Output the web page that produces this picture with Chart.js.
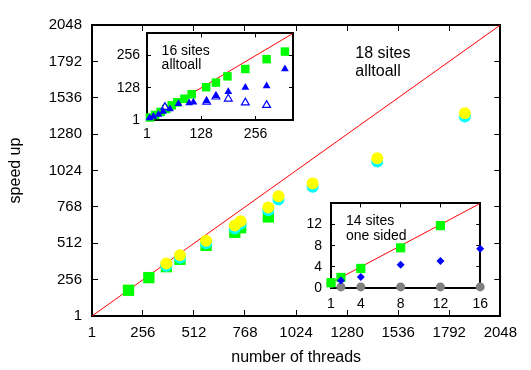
<!DOCTYPE html>
<html>
<head>
<meta charset="utf-8">
<script src="https://cdn.jsdelivr.net/npm/chart.js@4.4.1/dist/chart.umd.min.js"></script>
<style>
  body { margin: 0; background: #fff; }
  #wrap { position: relative; width: 531px; height: 370px; }
  canvas { position: absolute; }
</style>
</head>
<body>
<div id="wrap">
  <canvas id="mainChart" width="531" height="370" style="left:0;top:0"></canvas>
  <canvas id="alltoall16" width="200" height="135" style="left:100px;top:14px"></canvas>
  <canvas id="oneSided14" width="205" height="130" style="left:295px;top:182px"></canvas>
</div>
<script>
// 18 sites, alltoall (main plot)
const mainTicks = [1, 256, 512, 768, 1024, 1280, 1536, 1792, 2048];
const mainDiag = [1, 2048];
const sqThreads18 = [184, 286, 374, 442, 573, 717, 746, 885];
const sqSpeedup18 = [182, 271, 348, 400, 498, 590, 622, 698];
const dotThreads18 = [374, 442, 573, 717, 746, 885, 936, 1107, 1431, 1870];
const cyanSpeedup18 = [355, 410, 512, 617, 650, 745, 820, 910, 1088, 1405];
const yellowSpeedup18 = [371, 428, 530, 637, 667, 765, 844, 933, 1111, 1427];

// 16 sites, alltoall (upper inset)
const ticks16 = [1, 128, 256];
const diag16 = [1, 344];
const sqThreads16 = [8, 20, 33, 46, 59, 72, 89, 106, 140, 163, 190, 232, 282, 325];
const sqSpeedup16 = [11, 21, 33, 45, 59, 71, 85, 103, 131, 149, 174, 203, 242, 272];
const triThreads16 = [7, 16, 28, 39, 55, 75, 100, 110, 141, 163, 192, 232, 282, 325];
const triSpeedup16 = [9, 15, 23, 35, 45, 65, 68, 71, 77, 97, 113, 130, 136, 203];
const openThreads16 = [43, 141, 163, 192, 232, 282];
const openSpeedup16 = [52, 73, 93, 85, 70, 60];

// 14 sites, one sided (lower inset)
const threads14 = [1, 2, 4, 8, 12, 16];
const xTicks14 = [1, 4, 8, 12, 16];
const yTicks14 = [0, 4, 8, 12];
const diag14 = [1, 16];
const sqSpeedup14 = [1, 2, 3.7, 7.6, 11.8, null];
const diaSpeedup14 = [null, 1.4, 2.1, 4.4, 5.1, 7.4];
const graySpeedup14 = [0.9, 0.2, 0.2, 0.2, 0.2, 0.2];

Chart.defaults.font.family = "'Liberation Sans', Arial, sans-serif";
Chart.defaults.color = "#000";
Chart.defaults.animation = false;

const pts = (xs, ys) =>
  xs.map((x, i) => ({ x: x, y: ys[i] })).filter((p) => p.y !== null);

// gnuplot-like box: border on four sides, ticks pointing inward
function frameAxes(c) {
  const setTicks = (list) => (scale) => {
    scale.ticks = list.map((v) => ({ value: v }));
  };
  const grid = {
    drawOnChartArea: false,
    color: "#000",
    tickLength: -c.tickLen,
    tickWidth: 1,
  };
  const border = { display: true, color: "#000", width: c.frame };
  const font = { size: c.fontSize };
  const label = (v) => String(v);
  return {
    x: {
      type: "linear",
      position: "bottom",
      min: c.xMin,
      max: c.xMax,
      afterBuildTicks: setTicks(c.xTicks),
      afterFit: (s) => { s.height = c.xHeight; },
      grid: grid,
      border: border,
      ticks: { padding: c.xPad, autoSkip: false, maxRotation: 0, font: font, callback: label },
      title: c.xTitle || { display: false },
    },
    y: {
      type: "linear",
      position: "left",
      min: c.yMin,
      max: c.yMax,
      afterBuildTicks: setTicks(c.yTicks),
      afterFit: (s) => { s.width = c.yWidth; },
      grid: grid,
      border: border,
      ticks: { padding: c.yPad, autoSkip: false, font: font, callback: label },
      title: c.yTitle || { display: false },
    },
    x2: {
      type: "linear",
      position: "top",
      min: c.xMin,
      max: c.xMax,
      afterBuildTicks: setTicks(c.xTicks),
      afterFit: (s) => { s.height = 0; },
      grid: grid,
      border: border,
      ticks: { display: false, autoSkip: false },
    },
    y2: {
      type: "linear",
      position: "right",
      min: c.yMin,
      max: c.yMax,
      afterBuildTicks: setTicks(c.yTicks),
      afterFit: (s) => { s.width = 0; },
      grid: grid,
      border: border,
      ticks: { display: false, autoSkip: false },
    },
  };
}

// text label placed at a fraction of the plot box
const boxLabel = {
  id: "boxLabel",
  afterDraw(chart, args, opts) {
    const { ctx, chartArea: a } = chart;
    ctx.save();
    ctx.font = opts.size + "px 'Liberation Sans', Arial, sans-serif";
    ctx.fillStyle = "#000";
    ctx.textBaseline = "middle";
    const x = a.left + opts.at[0] * (a.right - a.left);
    const y = a.top + opts.at[1] * (a.bottom - a.top);
    opts.lines.forEach((t, i) => ctx.fillText(t, x, y + i * opts.step));
    ctx.restore();
  },
};

function diagLine(ends) {
  return {
    type: "line",
    data: pts(ends, ends),
    borderColor: "#ff0000",
    borderWidth: 1,
    pointRadius: 0,
    order: 9,
  };
}

function marks(data, style, radius, color, order, extra) {
  return Object.assign(
    {
      type: "scatter",
      data: data,
      pointStyle: style,
      pointRadius: radius,
      pointHoverRadius: radius,
      backgroundColor: color,
      borderColor: color,
      borderWidth: 0,
      order: order,
      clip: false,
    },
    extra || {}
  );
}

const baseOptions = {
  responsive: false,
  devicePixelRatio: 1,
  plugins: { legend: { display: false }, tooltip: { enabled: false } },
};

new Chart(document.getElementById("mainChart"), {
  type: "scatter",
  data: {
    datasets: [
      diagLine(mainDiag),
      marks(pts(sqThreads18, sqSpeedup18), "rect", 8, "#00ff00", 3),
      marks(pts(dotThreads18, cyanSpeedup18), "circle", 6, "#00ffff", 2),
      marks(pts(dotThreads18, yellowSpeedup18), "circle", 6, "#ffff00", 1),
    ],
  },
  options: Object.assign({}, baseOptions, {
    layout: { padding: { left: 0, top: 16, right: 21, bottom: 0 } },
    scales: frameAxes({
      xMin: 1, xMax: 2048, yMin: 1, yMax: 2048,
      xTicks: mainTicks, yTicks: mainTicks,
      tickLen: 6, frame: 2, fontSize: 15,
      xHeight: 54, yWidth: 92, xPad: 14, yPad: 16,
      xTitle: {
        display: true, text: "number of threads",
        font: { size: 16 }, padding: { top: 0, bottom: 3 },
      },
      yTitle: {
        display: true, text: "speed up",
        font: { size: 16 }, padding: { top: 6, bottom: 0 },
      },
    }),
    plugins: Object.assign({}, baseOptions.plugins, {
      boxLabel: { lines: ["18 sites", "alltoall"], at: [0.645, 0.097], step: 18, size: 16 },
    }),
  }),
  plugins: [boxLabel],
});

new Chart(document.getElementById("alltoall16"), {
  type: "scatter",
  data: {
    datasets: [
      diagLine(diag16),
      marks(pts(sqThreads16, sqSpeedup16), "rect", 6, "#00ff00", 3),
      marks(pts(openThreads16, openSpeedup16), "triangle", 4.5, "#ffffff", 2,
        { borderColor: "#0000ff", borderWidth: 1.2 }),
      marks(pts(triThreads16, triSpeedup16), "triangle", 4.5, "#0000ff", 1),
    ],
  },
  options: Object.assign({}, baseOptions, {
    layout: { padding: { left: 0, top: 10, right: 7, bottom: 0 } },
    scales: frameAxes({
      xMin: 1, xMax: 344, yMin: 1, yMax: 344,
      xTicks: ticks16, yTicks: ticks16,
      tickLen: 4, frame: 2, fontSize: 14,
      xHeight: 29, yWidth: 47, xPad: 10, yPad: 11,
    }),
    plugins: Object.assign({}, baseOptions.plugins, {
      boxLabel: { lines: ["16 sites", "alltoall"], at: [0.1, 0.2], step: 14, size: 14 },
    }),
  }),
  plugins: [boxLabel],
});

new Chart(document.getElementById("oneSided14"), {
  type: "scatter",
  data: {
    datasets: [
      diagLine(diag14),
      marks(pts(threads14, sqSpeedup14), "rect", 6.5, "#00ff00", 2),
      marks(pts(threads14, diaSpeedup14), "rectRot", 4, "#0000ff", 1),
      marks(pts(threads14, graySpeedup14), "circle", 4.5, "#808080", 3),
    ],
  },
  options: Object.assign({}, baseOptions, {
    layout: { padding: { left: 0, top: 10, right: 12, bottom: 0 } },
    scales: frameAxes({
      xMin: 1, xMax: 16, yMin: 0, yMax: 16,
      xTicks: xTicks14, yTicks: yTicks14,
      tickLen: 4, frame: 2, fontSize: 14,
      xHeight: 24, yWidth: 36, xPad: 12, yPad: 13,
    }),
    plugins: Object.assign({}, baseOptions.plugins, {
      boxLabel: { lines: ["14 sites", "one sided"], at: [0.1, 0.21], step: 14.5, size: 14 },
    }),
  }),
  plugins: [boxLabel],
});
</script>
</body>
</html>
